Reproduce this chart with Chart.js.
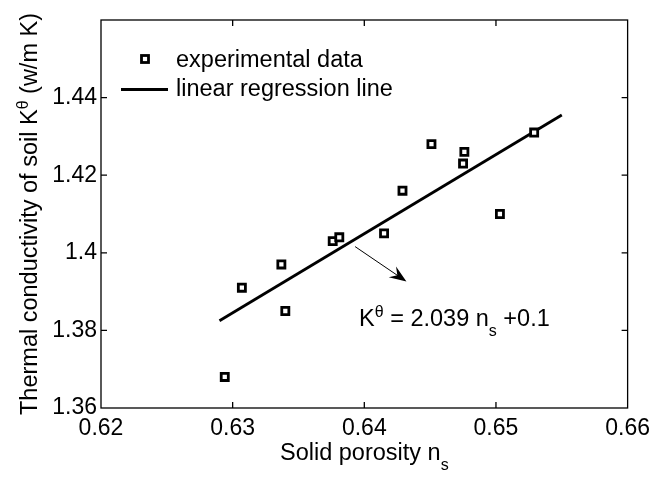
<!DOCTYPE html>
<html lang="en">
<head>
	<meta charset="UTF-8">
	<title>Thermal conductivity vs solid porosity</title>
	<script src="https://cdn.jsdelivr.net/npm/chart.js"></script>
	<style>
		body { margin: 0; background: #fff; }
		canvas { display: block; }
	</style>
</head>
<body>
	<canvas id="grafico" width="657" height="477"></canvas>
	<script>
		// measured points (solid porosity, thermal conductivity)
		var porosidade = [0.6294, 0.6307, 0.6337, 0.6340, 0.6376, 0.6381, 0.6415, 0.6429, 0.6451, 0.6476, 0.6475, 0.6503, 0.6529];
		var condutividade = [1.368, 1.391, 1.397, 1.385, 1.403, 1.404, 1.405, 1.416, 1.428, 1.426, 1.423, 1.410, 1.431];
		// regression line end points
		var retaX = [0.629, 0.655];
		var retaY = [1.3825, 1.4355];
		var ticksX = [0.62, 0.63, 0.64, 0.65, 0.66];
		var ticksY = [1.36, 1.38, 1.40, 1.42, 1.44];

		var FONTE = '"Liberation Sans", Arial, sans-serif';
		var TAM = 23.5, TAM_PEQ = 16;

		function textoRico(ctx, partes, x, y, centro) {
			var total = 0;
			partes.forEach(function (p) {
				ctx.font = ((p.sup || p.sub) ? TAM_PEQ : TAM) + 'px ' + FONTE;
				p.w = ctx.measureText(p.t).width;
				total += p.w;
			});
			var cx = centro ? x - total / 2 : x;
			ctx.textAlign = 'left';
			ctx.textBaseline = 'alphabetic';
			partes.forEach(function (p) {
				ctx.font = ((p.sup || p.sub) ? TAM_PEQ : TAM) + 'px ' + FONTE;
				var dy = p.sup ? -9 : (p.sub ? 10 : 0);
				ctx.fillText(p.t, cx, y + dy);
				cx += p.w;
			});
		}

		var extras = {
			id: 'extras',
			afterDraw: function (chart) {
				var ctx = chart.ctx;
				var a = chart.chartArea;
				var sx = chart.scales.x, sy = chart.scales.y;
				ctx.save();
				ctx.fillStyle = '#000';
				ctx.strokeStyle = '#000';

				// box
				ctx.lineWidth = 1.3;
				ctx.strokeRect(a.left, a.top, a.right - a.left, a.bottom - a.top);

				// inner ticks on all sides
				ctx.beginPath();
				ticksX.forEach(function (v) {
					var px = sx.getPixelForValue(v);
					if (px <= a.left + 1 || px >= a.right - 1) return;
					ctx.moveTo(px, a.bottom); ctx.lineTo(px, a.bottom - 6);
					ctx.moveTo(px, a.top); ctx.lineTo(px, a.top + 6);
				});
				ticksY.forEach(function (v) {
					var py = sy.getPixelForValue(v);
					if (py >= a.bottom - 1 || py <= a.top + 1) return;
					ctx.moveTo(a.left, py); ctx.lineTo(a.left + 6, py);
					ctx.moveTo(a.right, py); ctx.lineTo(a.right - 6, py);
				});
				ctx.stroke();

				// legend
				var lx = a.left, ly = a.top;
				ctx.lineWidth = 2.8;
				ctx.fillStyle = '#fff';
				ctx.fillRect(lx + 40.5, ly + 35.5, 7, 7);
				ctx.strokeRect(lx + 40.5, ly + 35.5, 7, 7);
				ctx.beginPath();
				ctx.moveTo(lx + 20, ly + 69.5);
				ctx.lineTo(lx + 67, ly + 69.5);
				ctx.stroke();
				ctx.fillStyle = '#000';
				ctx.font = TAM + 'px ' + FONTE;
				ctx.textAlign = 'left';
				ctx.textBaseline = 'alphabetic';
				ctx.fillText('experimental data', lx + 75, ly + 47);
				ctx.fillText('linear regression line', lx + 75, ly + 76);

				// arrow to the fitted line
				var x0 = sx.getPixelForValue(0.6393), y0 = sy.getPixelForValue(1.4016);
				var x1 = sx.getPixelForValue(0.6432), y1 = sy.getPixelForValue(1.3926);
				var ang = Math.atan2(y1 - y0, x1 - x0);
				ctx.lineWidth = 1;
				ctx.beginPath();
				ctx.moveTo(x0, y0);
				ctx.lineTo(x1 - 10 * Math.cos(ang), y1 - 10 * Math.sin(ang));
				ctx.stroke();
				ctx.save();
				ctx.translate(x1, y1);
				ctx.rotate(ang);
				ctx.beginPath();
				ctx.moveTo(0, 0);
				ctx.lineTo(-17, -6.5);
				ctx.lineTo(-11, 0);
				ctx.lineTo(-17, 6.5);
				ctx.closePath();
				ctx.fill();
				ctx.restore();

				// equation
				textoRico(ctx, [
					{ t: 'K' }, { t: 'θ', sup: true }, { t: ' = 2.039 n' }, { t: 's', sub: true }, { t: ' +0.1' }
				], sx.getPixelForValue(0.6396), sy.getPixelForValue(1.3812), false);

				// axis titles
				var meioX = (a.left + a.right) / 2;
				textoRico(ctx, [{ t: 'Solid porosity n' }, { t: 's', sub: true }], meioX, 460, true);

				ctx.save();
				ctx.translate(37, (a.top + a.bottom) / 2);
				ctx.rotate(-Math.PI / 2);
				textoRico(ctx, [
					{ t: 'Thermal conductivity of soil K' }, { t: 'θ', sup: true }, { t: ' (w/m K)' }
				], 0, 0, true);
				ctx.restore();

				ctx.restore();
			}
		};

		var pontos = porosidade.map(function (x, i) { return { x: x, y: condutividade[i] }; });
		var reta = retaX.map(function (x, i) { return { x: x, y: retaY[i] }; });

		new Chart(document.getElementById('grafico').getContext('2d'), {
			type: 'scatter',
			data: {
				datasets: [{
					label: 'experimental data',
					data: pontos,
					pointStyle: 'rect',
					pointRadius: 5,
					pointBackgroundColor: '#fff',
					pointBorderColor: '#000',
					pointBorderWidth: 2.8,
					order: 1
				}, {
					label: 'linear regression line',
					data: reta,
					showLine: true,
					borderColor: '#000',
					borderWidth: 2.8,
					pointRadius: 0,
					order: 2
				}]
			},
			options: {
				responsive: false,
				animation: false,
				devicePixelRatio: 1,
				layout: { padding: { top: 20, right: 29, left: 0, bottom: 0 } },
				plugins: { legend: { display: false }, tooltip: { enabled: false } },
				scales: {
					x: {
						type: 'linear',
						min: 0.62,
						max: 0.66,
						afterBuildTicks: function (s) { s.ticks = ticksX.map(function (v) { return { value: v }; }); },
						afterFit: function (s) { s.height = 69; },
						grid: { display: false, drawTicks: false },
						border: { display: false },
						ticks: {
							color: '#000',
							padding: 7,
							maxRotation: 0,
							font: { family: FONTE, size: 23 },
							callback: function (v) { return String(+v.toFixed(2)); }
						}
					},
					y: {
						type: 'linear',
						min: 1.36,
						max: 1.46,
						afterBuildTicks: function (s) { s.ticks = ticksY.map(function (v) { return { value: v }; }); },
						afterFit: function (s) { s.width = 101; },
						grid: { display: false, drawTicks: false },
						border: { display: false },
						ticks: {
							color: '#000',
							padding: 4,
							font: { family: FONTE, size: 23 },
							callback: function (v) { return String(+v.toFixed(2)); }
						}
					}
				}
			},
			plugins: [extras]
		});
	</script>
</body>
</html>
